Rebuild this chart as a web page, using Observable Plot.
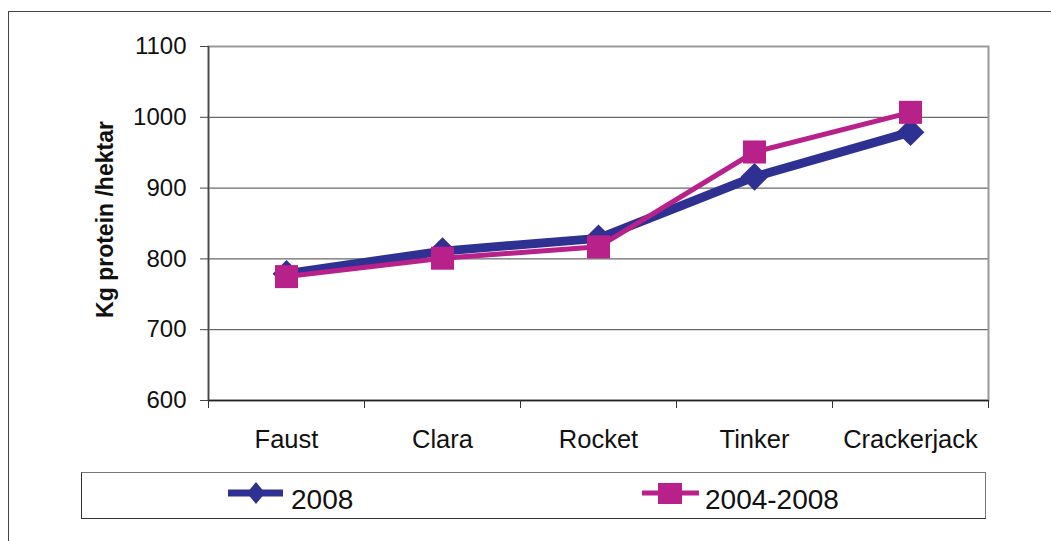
<!DOCTYPE html>
<html>
<head>
<meta charset="utf-8">
<script src="https://cdn.jsdelivr.net/npm/d3@7"></script>
<script src="https://cdn.jsdelivr.net/npm/@observablehq/plot@0.6"></script>
<style>
  body { margin: 0; background: #fff; font-family: "Liberation Sans", Arial, sans-serif; }
  #wrap { position: relative; width: 1051px; height: 541px; overflow: hidden; background: #fff; }
  #chart { position: absolute; left: 0; top: 0; }
  #frame { position: absolute; left: 8px; top: 11px; width: 1100px; height: 600px; border: 1.5px solid #444; box-sizing: border-box; pointer-events: none; }
  #legend { position: absolute; left: 81px; top: 472px; width: 905px; height: 47px; border: 1.5px solid #333; border-top-color: #777; border-right-color: #777; box-sizing: border-box; background: #fff; }
  #legend svg { position: absolute; left: 0; top: 0; }
</style>
</head>
<body>
<div id="wrap">
  <div id="chart"></div>
  <div id="frame"></div>
  <div id="legend"></div>
</div>
<script>
const categories = ["Faust", "Clara", "Rocket", "Tinker", "Crackerjack"];
const values2008 = [779, 811, 829, 916, 979];
const values0408 = [775, 801, 817, 951, 1007];
const seriesNames = ["2008", "2004-2008"];
const yTicks = [600, 700, 800, 900, 1000, 1100];
const yLabel = "Kg protein /hektar";

const blue = "#2E3192";
const magenta = "#B8218A";

const rows2008 = categories.map((c, i) => ({cat: c, i, v: values2008[i]}));
const rows0408 = categories.map((c, i) => ({cat: c, i, v: values0408[i]}));
const idx = categories.map((c, i) => i);
const bounds = categories.map((c, i) => i - 0.5).concat([categories.length - 0.5]);

const chart = Plot.plot({
  width: 1051,
  height: 460,
  marginLeft: 208,
  marginRight: 63,
  marginTop: 46,
  marginBottom: 60,
  style: { fontFamily: '"Liberation Sans", Arial, sans-serif', background: "transparent", color: "#111" },
  x: { type: "linear", domain: [-0.5, categories.length - 0.5] },
  y: { domain: [600, 1100] },
  marks: [
    Plot.gridY([700, 800, 900, 1000], { stroke: "#444", strokeOpacity: 1, strokeWidth: 1 }),
    Plot.frame({ stroke: "#999", strokeWidth: 2 }),
    Plot.ruleY([600], { stroke: "#222", strokeWidth: 1.5 }),
    Plot.ruleX([-0.5], { stroke: "#444", strokeWidth: 1.5 }),
    Plot.axisY({ ticks: yTicks, tickSize: 8, tickPadding: 14, fontSize: 24, label: null, stroke: "#444", tickFormat: d3.format("d") }),
    Plot.axisX({ ticks: bounds, tickSize: 8, tickFormat: () => "", label: null, stroke: "#333" }),
    Plot.axisX({ ticks: idx, tickSize: 0, tickPadding: 29, fontSize: 25.5, label: null, tickFormat: i => categories[i] }),
    Plot.text([yLabel], { frameAnchor: "left", textAnchor: "middle", text: d => d, rotate: -90, dx: -103, dy: -4, fontSize: 23, fontWeight: "bold", fill: "#111" }),
    Plot.line(rows2008, { x: "i", y: "v", stroke: blue, strokeWidth: 9, strokeLinejoin: "miter" }),
    Plot.dot(rows2008, { x: "i", y: "v", symbol: "diamond2", r: 12.5, fill: blue, stroke: "none" }),
    Plot.line(rows0408, { x: "i", y: "v", stroke: magenta, strokeWidth: 5, strokeLinejoin: "miter" }),
    Plot.dot(rows0408, { x: "i", y: "v", symbol: "square", r: 13, fill: magenta, stroke: "none" })
  ]
});
document.getElementById("chart").appendChild(chart);

// Legend (HTML box below the plot SVG)
const legend = d3.select("#legend").append("svg").attr("width", 905).attr("height", 47);
// item 1
legend.append("line").attr("x1", 146).attr("x2", 201).attr("y1", 20).attr("y2", 20).attr("stroke", blue).attr("stroke-width", 7);
legend.append("path").attr("d", "M174,9 L183,20 L174,31 L165,20 Z").attr("fill", blue);
legend.append("text").attr("x", 209).attr("y", 36).attr("font-size", 28).attr("fill", "#111")
  .attr("font-family", '"Liberation Sans", Arial, sans-serif').text(seriesNames[0]);
// item 2
legend.append("line").attr("x1", 560).attr("x2", 617).attr("y1", 20).attr("y2", 20).attr("stroke", magenta).attr("stroke-width", 5);
legend.append("rect").attr("x", 576).attr("y", 10).attr("width", 24).attr("height", 21).attr("fill", magenta);
legend.append("text").attr("x", 623).attr("y", 36).attr("font-size", 28).attr("fill", "#111")
  .attr("font-family", '"Liberation Sans", Arial, sans-serif').text(seriesNames[1]);
</script>
</body>
</html>
